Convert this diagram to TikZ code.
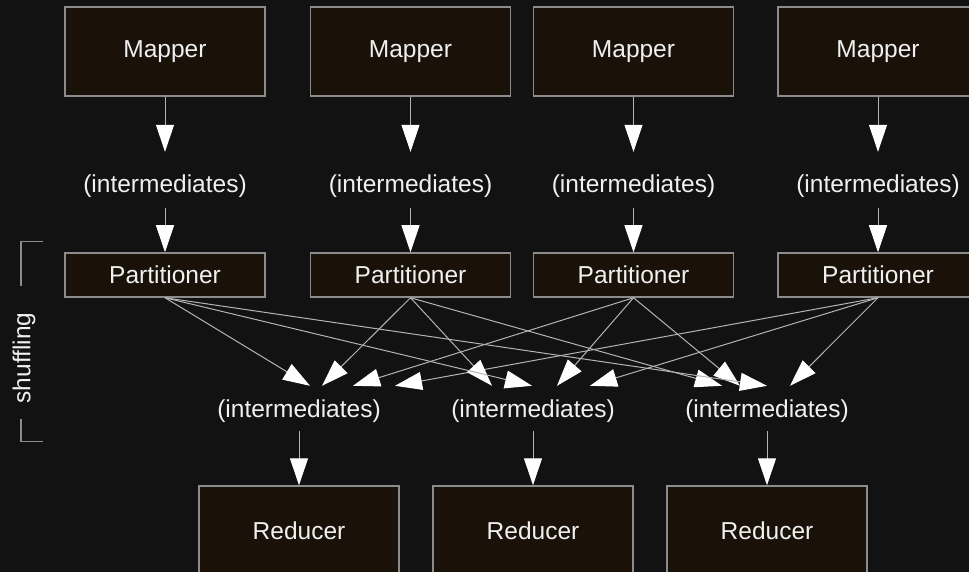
\documentclass[tikz,border=0pt]{standalone}
\usepackage{fontspec}
\setmainfont{Liberation Sans}
\usetikzlibrary{arrows.meta}

\definecolor{bg}{HTML}{121212}
\definecolor{boxfill}{HTML}{1A1209}
\definecolor{boxline}{HTML}{8C8C8C}
\definecolor{wire}{HTML}{B4B4B4}
\definecolor{fg}{HTML}{F0F0F0}

\begin{document}
\begin{tikzpicture}[x=1pt, y=-1pt,
    every node/.style={text=fg, font=\fontsize{24.5}{29}\selectfont},
    box/.style={draw=boxline, line width=1.5pt, fill=boxfill, minimum width=200pt, minimum height=89pt, inner sep=0pt},
    part/.style={box, minimum height=44pt},
    mid/.style={inner sep=0pt, anchor=base},
    flow/.style={draw=wire, line width=1pt, -{Triangle[length=27pt, width=18pt, color=white]}}]
        \useasboundingbox (0,0) rectangle (969,572);
        \fill[bg] (0,0) rectangle (969,572);
        \clip (0,0) rectangle (969,572);
        % Mappers
        \node[box] (m1) at (165,51.5) {Mapper};
        \node[box] (m2) at (410.5,51.5) {Mapper};
        \node[box] (m3) at (633.5,51.5) {Mapper};
        \node[box] (m4) at (878,51.5) {Mapper};
        % map output
        \node[mid, text height=40.7pt, text depth=15.3pt] (t1) at (165,192.7) {(intermediates)};
        \node[mid, text height=40.7pt, text depth=15.3pt] (t2) at (410.5,192.7) {(intermediates)};
        \node[mid, text height=40.7pt, text depth=15.3pt] (t3) at (633.5,192.7) {(intermediates)};
        \node[mid, text height=40.7pt, text depth=15.3pt] (t4) at (878,192.7) {(intermediates)};
        % Partitioners
        \node[part] (p1) at (165,275) {Partitioner};
        \node[part] (p2) at (410.5,275) {Partitioner};
        \node[part] (p3) at (633.5,275) {Partitioner};
        \node[part] (p4) at (878,275) {Partitioner};
        \foreach \i in {1,...,4} {
            \draw[flow] (m\i.south) -- (t\i.north);
            \draw[flow] (t\i.south) -- (p\i.north);
        }
        % reduce input
        \node[mid, text height=31.5pt, text depth=13.5pt] (b1) at (299,417.5) {(intermediates)};
        \node[mid, text height=31.5pt, text depth=13.5pt] (b2) at (533,417.5) {(intermediates)};
        \node[mid, text height=31.5pt, text depth=13.5pt] (b3) at (767,417.5) {(intermediates)};
        % Reducers
        \node[box] (r1) at (299,530.5) {Reducer};
        \node[box] (r2) at (533,530.5) {Reducer};
        \node[box] (r3) at (767,530.5) {Reducer};
        \foreach \i in {1,2,3} \draw[flow] (b\i.south) -- (r\i.north);
        % shuffle
        \foreach \p/\b/\dx in {1/1/11, 2/1/23, 3/1/54, 4/1/96, 2/2/-41, 1/2/-1, 3/2/24, 4/2/57, 2/3/-45, 3/3/-27, 1/3/0, 4/3/23}
            \draw[flow] (p\p.south) -- ([xshift=\dx pt]b\b.north);
        \draw[boxline, line width=1.5pt] (43,241.5) -- (21,241.5) -- (21,286);
        \draw[boxline, line width=1.5pt] (21,419) -- (21,441.5) -- (43,441.5);
        \node[rotate=90] (shuf) at (24,358) {shuffling};
    \end{tikzpicture}
\end{document}
